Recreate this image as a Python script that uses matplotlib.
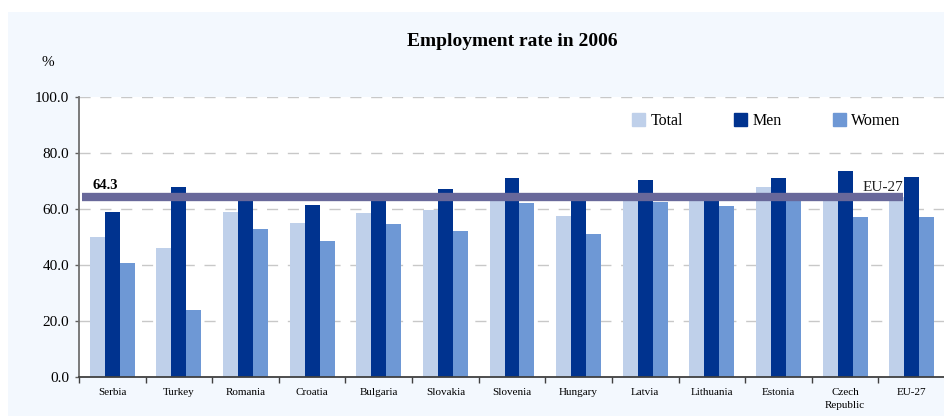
import numpy as np
import matplotlib
matplotlib.use('Agg')
import matplotlib.pyplot as plt
from matplotlib.patches import Rectangle, Patch

countries = ['Serbia', 'Turkey', 'Romania', 'Croatia', 'Bulgaria', 'Slovakia', 'Slovenia',
             'Hungary', 'Latvia', 'Lithuania', 'Estonia', 'Czech\nRepublic', 'EU-27']
total = [49.9, 46.0, 58.8, 54.9, 58.6, 59.5, 65.4, 57.4, 65.5, 63.6, 67.9, 65.3, 64.3]
men   = [58.9, 67.8, 64.6, 61.4, 62.8, 67.2, 71.1, 63.8, 70.4, 65.5, 71.1, 73.6, 71.4]
women = [40.6, 24.1, 53.0, 48.5, 54.6, 52.1, 62.1, 51.0, 62.5, 61.0, 65.3, 57.1, 57.1]
eu_avg = 64.3

c_total = '#BFD0EA'
c_men   = '#00338F'
c_women = '#6E98D5'
c_band  = '#68689A'
bg      = '#F3F8FE'

plt.rcParams['font.family'] = ['Liberation Serif', 'DejaVu Serif']

fig = plt.figure(figsize=(9.44, 4.17), dpi=100)
fig.patches.append(Rectangle((8/944, 0.002), 1, 1 - 12/417 - 0.002, transform=fig.transFigure,
                             facecolor=bg, edgecolor='none', zorder=-10))

ax = fig.add_axes([79/944, 1 - 377/417, 866/944, 280/417])
ax.set_facecolor('white')

x = np.arange(len(countries))
w = 0.225
ax.bar(x - w, total, w, color=c_total, zorder=2, label='Total')
ax.bar(x,     men,   w, color=c_men,   zorder=2, label='Men')
ax.bar(x + w, women, w, color=c_women, zorder=2, label='Women')

# EU-27 average band
ax.plot([-0.46, 11.87], [eu_avg, eu_avg], color=c_band, lw=6, solid_capstyle='butt', zorder=4)
ax.text(-0.29, eu_avg + 1.7, f'{eu_avg:.1f}', fontsize=10.5, fontweight='bold', va='bottom', ha='left', zorder=5)
ax.text(11.87, eu_avg + 1.1, 'EU-27', fontsize=11, va='bottom', ha='right', color='#222222', zorder=3)

ax.set_xlim(-0.5, len(countries) - 0.5)
ax.set_ylim(0, 100)
ax.set_yticks(np.arange(0, 101, 20))
ax.set_yticklabels([f'{v:.1f}' for v in np.arange(0, 101, 20)], fontsize=11)
ax.yaxis.grid(True, linestyle=(0, (8, 7)), color='#C8C8C8', lw=1)
ax.set_axisbelow(True)

ax.set_xticks(x)
ax.set_xticklabels(countries, fontsize=8, linespacing=1.6)
ax.set_xticks(np.arange(-0.5, len(countries), 1), minor=True)
ax.tick_params(axis='x', which='major', length=0, pad=8)
ax.tick_params(axis='x', which='minor', length=4, width=1, color='#404040', direction='out')
ax.tick_params(axis='y', length=3, width=1, color='#606060', pad=4)

for s in ['top', 'right']:
    ax.spines[s].set_visible(False)
ax.spines['left'].set_color('#707070')
ax.spines['left'].set_linewidth(1.3)
ax.spines['bottom'].set_color('#404040')
ax.spines['bottom'].set_linewidth(1.3)

handles = [Patch(color=c_total, label='Total'), Patch(color=c_men, label='Men'),
           Patch(color=c_women, label='Women')]
ax.legend(handles=handles, ncol=3, frameon=False, loc='center', bbox_to_anchor=(0.794, 0.914),
          fontsize=11.5, handlelength=0.8, handleheight=0.8, handletextpad=0.35, columnspacing=3.2)

fig.text(0.543, 1 - 42/417, 'Employment rate in 2006', fontsize=14, fontweight='bold',
         ha='center', va='center')
fig.text(48/944, 1 - 62/417, '%', fontsize=11, ha='center', va='center')

fig.savefig('out.png', dpi=100)
